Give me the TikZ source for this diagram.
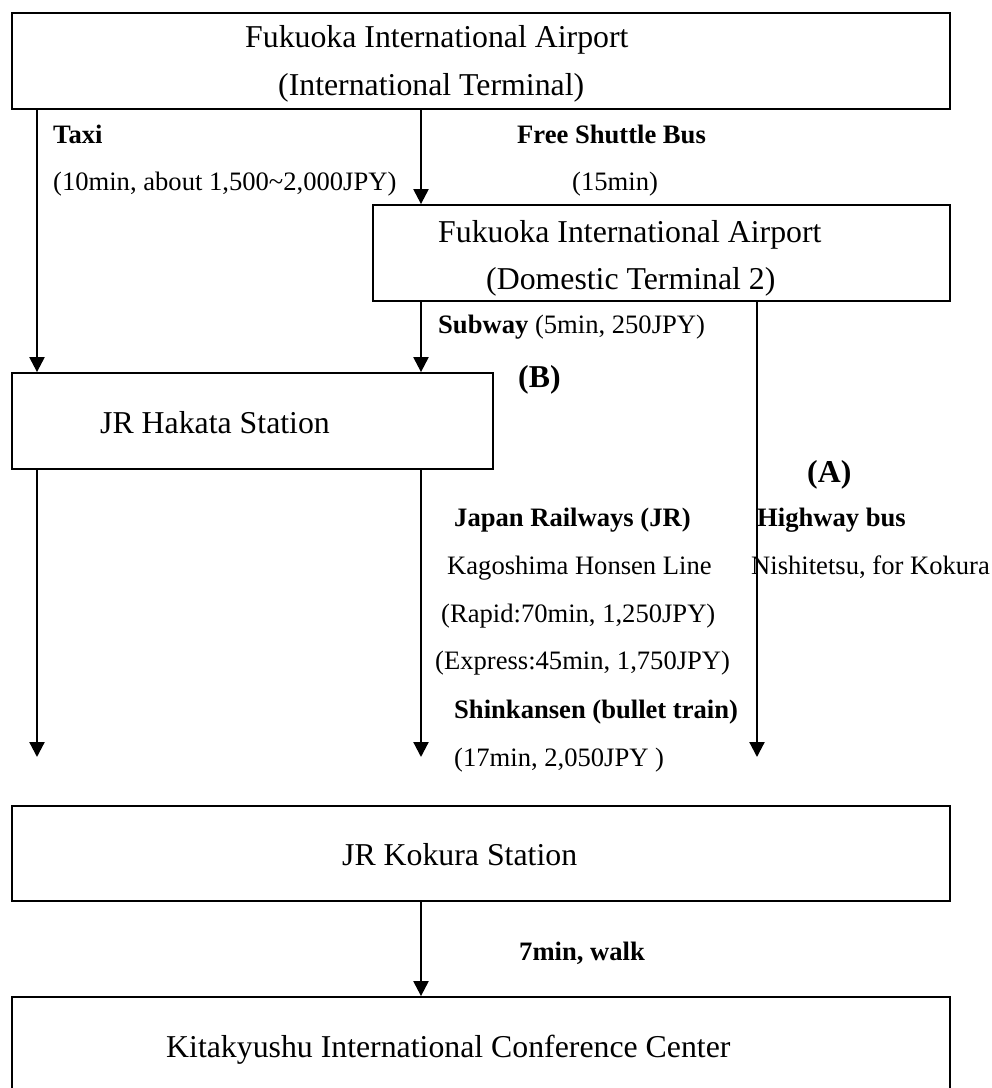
\documentclass[tikz,border=0pt]{standalone}
\usepackage{fontspec}
\setmainfont{Liberation Serif}
\usepackage{tikz}
\usetikzlibrary{arrows.meta}

\tikzset{
    box/.style={draw, line width=1.8pt, inner sep=0pt, minimum height=96pt},
    bigtxt/.style={font=\fontsize{31.8}{38}\selectfont, anchor=base west, inner sep=0pt},
    smalltxt/.style={font=\fontsize{26.6}{32}\selectfont, anchor=base west, inner sep=0pt},
    boldtxt/.style={font=\fontsize{26.6}{32}\selectfont\bfseries, anchor=base west, inner sep=0pt},
    route/.style={line width=2.2pt, -{Triangle[width=15pt,length=15pt]}}
}

\begin{document}
\begin{tikzpicture}[x=1pt,y=-1pt]
    \useasboundingbox (0,0) rectangle (992,1088);
    \clip (0,0) rectangle (992,1088);

    % columns of the arrows
    \coordinate (colA) at (37,0);
    \coordinate (colB) at (421,0);
    \coordinate (colC) at (757,0);
    \coordinate (tipA) at (37,757);
    \coordinate (tipB) at (421,757);
    \coordinate (tipC) at (757,757);

    % boxes
    \node[box, minimum width=938pt] (intl) at (481,61) {};
    \node[bigtxt] (intlname) at (245,47) {Fukuoka International Airport};
    \node[bigtxt] (intlterm) at (278,95) {(International Terminal)};

    \node[box, minimum width=577pt] (dom) at (661.5,253) {};
    \node[bigtxt] (domname) at (438,242) {Fukuoka International Airport};
    \node[bigtxt] (domterm) at (486,289) {(Domestic Terminal 2)};

    \node[box, minimum width=481pt] (hakata) at (252.5,421) {};
    \node[bigtxt] (hakataname) at (100,433) {JR Hakata Station};

    \node[box, minimum width=938pt, minimum height=95pt] (kokura) at (481,853.5) {};
    \node[bigtxt] (kokuraname) at (342,865) {JR Kokura Station};

    \node[box, minimum width=938pt, minimum height=110pt] (kicc) at (481,1052) {};
    \node[bigtxt] (kiccname) at (166,1057) {Kitakyushu International Conference Center};

    % arrows
    \draw[route] (intl.south -| colA) -- (hakata.north -| colA);
    \draw[route] (intl.south -| colB) -- (dom.north -| colB);
    \draw[route] (dom.south -| colB) -- (hakata.north -| colB);
    \draw[route] (dom.south -| colC) -- (tipC);
    \draw[route] (hakata.south -| colA) -- (tipA);
    \draw[route] (hakata.south -| colB) -- (tipB);
    \draw[route] (kokura.south -| colB) -- (kicc.north -| colB);

    % labels
    \node[boldtxt] (taxi) at (53,143) {Taxi};
    \node[smalltxt] (taxiinfo) at (53,190) {(10min, about 1,500\textasciitilde2,000JPY)};
    \node[boldtxt] (shuttle) at (517,143) {Free Shuttle Bus};
    \node[smalltxt] (shuttleinfo) at (572,190) {(15min)};
    \node[smalltxt] (subway) at (438,333) {\textbf{Subway} (5min, 250JPY)};
    \node[bigtxt, font=\fontsize{31.8}{38}\selectfont\bfseries] (routeB) at (518,387) {(B)};
    \node[bigtxt, font=\fontsize{31.8}{38}\selectfont\bfseries] (routeA) at (807,482) {(A)};
    \node[boldtxt] (jr) at (454,526) {Japan Railways (JR)};
    \node[boldtxt] (bus) at (757,526) {Highway bus};
    \node[smalltxt] (jrline) at (447,574) {Kagoshima Honsen Line};
    \node[smalltxt] (businfo) at (751,574) {Nishitetsu, for Kokura};
    \node[smalltxt] (rapid) at (441,622) {(Rapid:70min, 1,250JPY)};
    \node[smalltxt] (express) at (435,669) {(Express:45min, 1,750JPY)};
    \node[boldtxt] (shinkansen) at (454,718) {Shinkansen (bullet train)};
    \node[smalltxt] (shinkinfo) at (454,766) {(17min, 2,050JPY )};
    \node[boldtxt] (walk) at (519,960) {7min, walk};
\end{tikzpicture}
\end{document}
